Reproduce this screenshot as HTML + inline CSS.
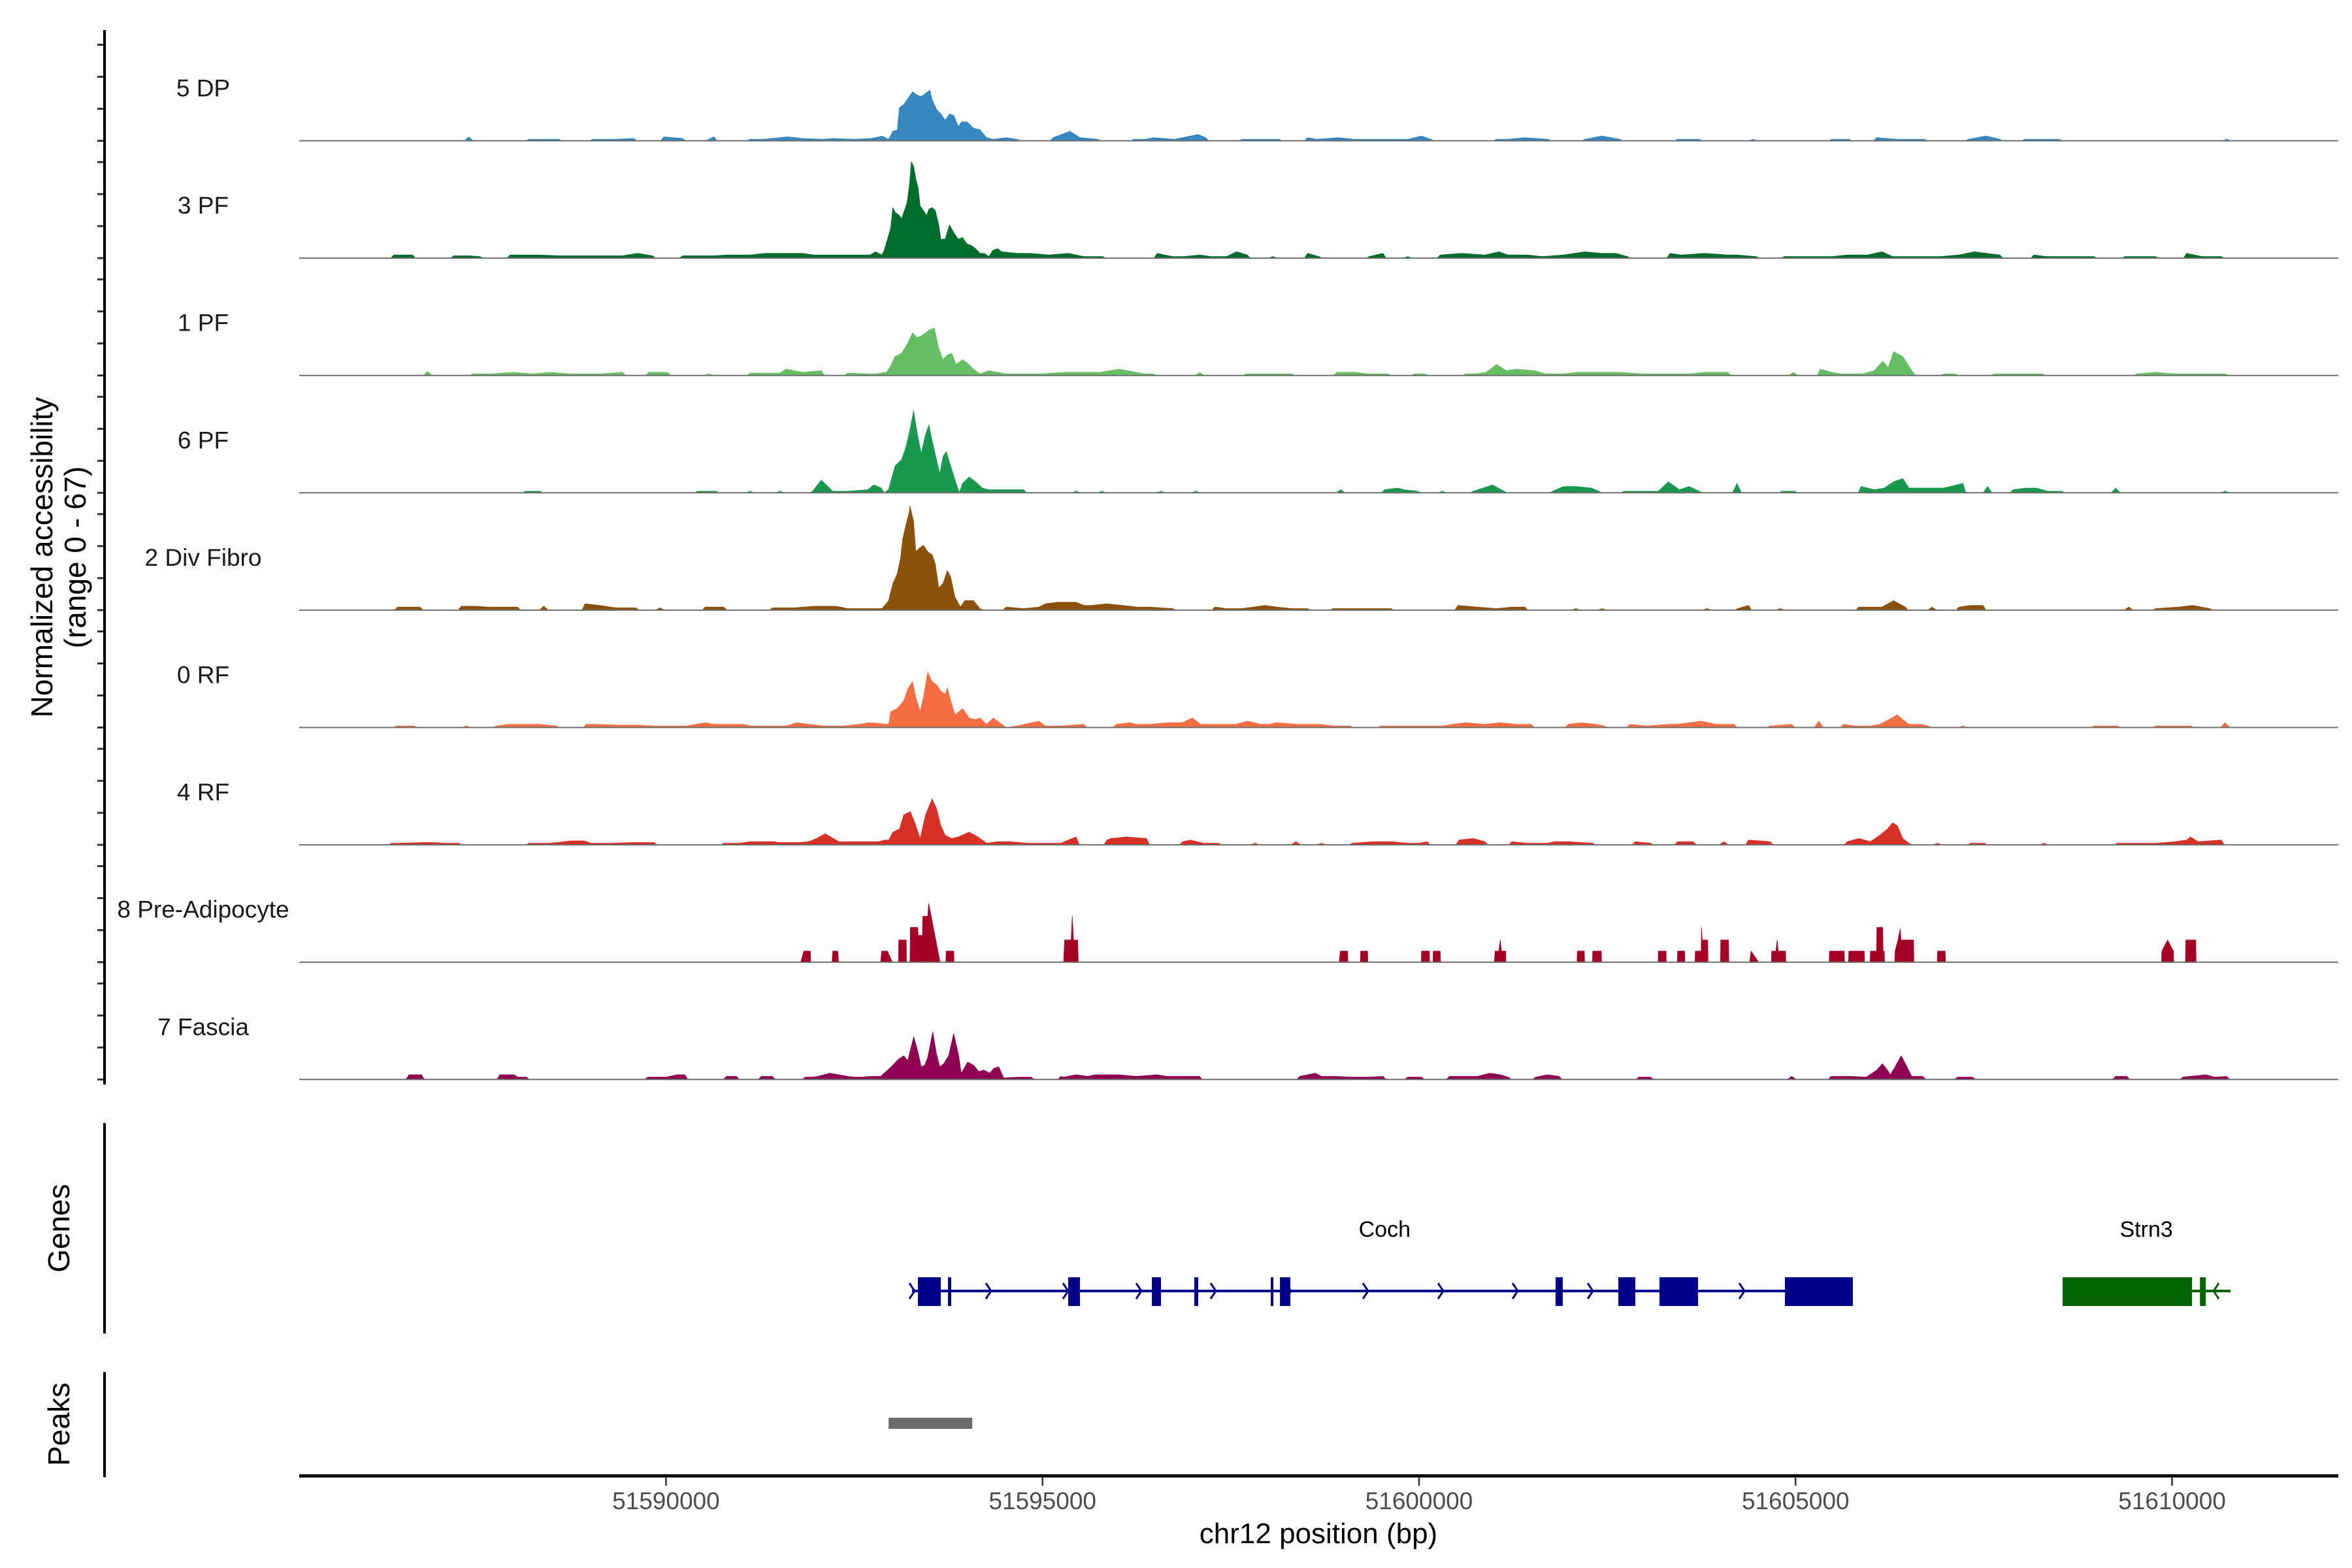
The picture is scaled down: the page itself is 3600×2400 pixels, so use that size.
<!DOCTYPE html>
<html><head><meta charset="utf-8"><style>
html,body{margin:0;padding:0;background:#fff;}
svg{display:block;font-family:"Liberation Sans",Arial,sans-serif;}
</style></head><body>
<svg id="chart" width="3600" height="2400" viewBox="0 0 3600 2400" xmlns="http://www.w3.org/2000/svg">
<rect width="3600" height="2400" fill="#fff"/>
<g id="tracks"></g>
<g id="axes"></g>
<g id="genes"></g>
<text transform="translate(80,853) rotate(-90)" text-anchor="middle" font-size="46" fill="#000">Normalized accessibility</text>
<text transform="translate(131,853) rotate(-90)" text-anchor="middle" font-size="46" fill="#000">(range 0 - 67)</text>
<text transform="translate(106,1880) rotate(-90)" text-anchor="middle" font-size="46" fill="#000">Genes</text>
<text transform="translate(106,2180) rotate(-90)" text-anchor="middle" font-size="46" fill="#000">Peaks</text>
<text x="2018" y="2362" text-anchor="middle" font-size="44" fill="#000">chr12 position (bp)</text>
</svg>
<script>
const trackNames = ["5 DP","3 PF","1 PF","6 PF","2 Div Fibro","0 RF","4 RF","8 Pre-Adipocyte","7 Fascia"];
const trackColors = ["#3787c0","#006d2c","#66bd63","#1a9850","#8c510a","#f46d43","#d73027","#a50026","#8e0152"];
const xTickValues = [51590000,51595000,51600000,51605000,51610000];
const xTickLabels = ["51590000","51595000","51600000","51605000","51610000"];
const REGION_START = 51590000;
// coverage series: [offset bp from 51590000, normalized accessibility]
const dp5 = [[-2619,2.5],[-1822,1],[-1573,1],[-1424,1],[-975,1],[-676,1],[-428,1.5],[-29,2.5],[220,1.5],[569,1],[638,2.5],[1116,1],[1295,1],[1614,2.5],[1813,1.5],[2092,1],[2212,1.5],[2511,1],[2710,1.5],
[2782,2],[2869,3],[2956,1],[3013,6],[3071,7],[3100,21],[3158,23],[3216,27],[3274,31],[3331,29],[3389,28],[3447,30],[3505,32],[3534,26],[3592,20],[3650,17],[3707,13],[3765,17],[3823,16],[3881,9],[3924,12],[3997,12],[4083,8],[4170,7],[4257,2],[4344,1],[4517,2],[4662,1],
[5139,2],[5365,6],[5498,2],[5733,1],[6215,1],[6368,1],[6471,2],[6757,1],[7065,4],[7167,2],[7648,1],[7955,1],[8140,1],[8519,2],[8641,1],[8928,2],[9133,1],[9338,1],[9594,1],[9850,1],[10034,3],[10157,1],[11027,1],[11181,1],[11406,2],[11713,1],[12205,1],[12430,3],[12666,1],[13434,1],[13720,1],[14437,1],[15482,1],[15707,1],[16076,2],[16352,1],[16526,1],[16711,1],[17294,1],[17530,3],[17714,1],[18042,1],[18196,1],[18503,1],[20725,1]];
const pf3 = [[-3615,2],[-3366,2],[-2818,1.5],[-2619,1.5],[-2470,1],[-2071,2],[-1872,2],[-1672,2],[-1424,1.5],[-1150,1.5],[-876,1.5],[-577,1.5],[-378,3],[-179,1.5],[220,1.5],[420,1.5],[618,1.5],[817,2],[1116,2],[1316,3],[1560,3],[1813,3],[1962,2],[2212,2],[2361,2],[2540,2],[2710,2],
[2782,4],[2869,2],[2898,5],[2941,12],[2984,19],[3013,32],[3042,29],[3100,27],[3129,25],[3158,29],[3201,35],[3230,45],[3259,61],[3288,58],[3317,50],[3346,45],[3375,33],[3404,31],[3433,29],[3462,27],[3491,31],[3534,32],[3577,30],[3621,21],[3650,12],[3707,12],[3765,21],[3823,16],[3881,12],[3939,13],[3997,9],[4054,8],[4112,6],[4170,3],[4228,3],[4286,1],[4344,5],[4402,6],[4459,4],[4662,3],[4835,3],[5088,2],
[5345,3],[5549,1],[5800,1],[6522,3],[6727,1],[6880,1],[7085,2],[7238,1],[7443,1],[7577,4],[7720,2],[8058,1],[8519,3],[8672,1],[9338,1],[9522,3],[9850,1],[10280,2],[10567,3],[10874,2],[11058,4],[11181,2],[11437,2],[11641,1],[11918,2],[12205,4],[12420,3],[12615,3],[12768,1],[13332,3],[13485,2],[13792,3],[14100,2],[14222,2],[14478,1],[14847,1],[15025,1],[15328,1],[15482,1],[15687,2],[15953,2],[16148,4],[16291,1],[16455,1],[16762,1],[16922,1],[17171,2],[17376,4],[17530,3],[17714,2],[18165,2],[18329,1],[18554,1],[18759,1],[18964,1],[19373,1],[19527,1],[19783,1],[20193,3],[20397,1],[20653,1]];
const pf1 = [[-3167,2.5],[-2569,1],[-2320,1],[-2041,2],[-1772,1],[-1543,2],[-1274,1],[-1075,1],[-876,1],[-577,2],[-228,2],[22,2],[569,1],[1116,1.5],[1315,1.5],[1514,1.5],[1594,4],[1813,2],[2062,3],[2411,1.5],[2710,1],
[2782,1],[2927,2],[2984,6],[3042,12],[3129,14],[3216,21],[3274,27],[3331,24],[3389,25],[3447,27],[3505,29],[3563,30],[3621,17],[3679,10],[3736,13],[3794,14],[3852,7],[3939,10],[3997,8],[4083,4],[4170,1],[4286,3],[4517,1],[4749,1],[4980,1],
[5293,2],[5498,2],[5600,2],[5764,2],[6010,4],[6250,2],[6348,1],[6471,1],[7085,2],[7699,1],[7853,1],[8160,1],[8314,1],[8908,2],[9154,2],[9317,1],[9594,1],[9932,1],[10075,1],[10618,1],[10751,1],[10894,2],[11027,7],[11160,3],[11283,4],[11539,3],[11673,1],[11918,1],[12102,2],[12307,2],[12461,2],[12666,2],[12973,1],[13229,1],[13485,1],[13587,1],[13792,2],[14100,2],[14970,2],[15329,4],[15482,2],[15605,1],[15891,1],[16045,3],[16158,9],[16230,5],[16301,15],[16424,12],[16557,2],[16967,1],[17120,1],[17632,1],[17837,1],[18042,1],[18278,1],[19527,1],[19783,2],[20039,1],[20244,1],[20397,1],[20704,1]];
const pf6 = [[-1871,1],[-1672,1],[419,1],[668,1],[1116,1],[1514,1],[1962,2],[2062,8],[2150,4],[2212,1],[2411,1],[2680,2],[2760,5],[2859,3],
[2898,0],[2956,2],[3042,17],[3129,21],[3187,29],[3245,41],[3288,52],[3331,39],[3389,25],[3447,37],[3491,43],[3534,33],[3592,21],[3635,12],[3679,23],[3722,26],[3780,17],[3852,6],[3895,0],[3939,6],[4026,10],[4112,7],[4199,3],[4286,2],[4517,2],[4749,2],
[5447,1],[5785,1],[6573,1],[7034,1],[8959,2],[9543,2],[9713,3],[9799,2],[9983,1],[10311,1],[10720,1],[10976,5],[11130,1],[11775,1],[11918,4],[12102,4],[12287,3],[12389,1],[12717,1],[12870,1],[13177,1],[13311,7],[13454,2],[13587,4],[13720,1],[14222,6],[14816,1],[14990,1],[15871,4],[16045,2],[16178,3],[16301,7],[16424,9],[16506,3],[16711,3],[16967,3],[17222,6],[17550,4],[17888,2],[18062,3],[18196,3],[18349,1],[18534,1],[19250,3],[20704,1]];
const divFibro = [[-3565,2],[-3400,2],[-3266,2],[-2718,2.5],[-2520,2.5],[-2370,2],[-2170,2],[-1971,2],[-1622,2.5],[-1075,4],[-876,3],[-676,1.5],[-400,1.5],[-79,1.5],[519,2],[768,2],[1415,1.5],[1714,1.5],[1962,2.5],[2261,2.5],[2411,1],[2710,1],
[2869,1],[2956,6],[3013,17],[3071,23],[3115,33],[3143,45],[3187,54],[3230,62],[3239,66],[3288,56],[3317,37],[3360,39],[3418,41],[3476,37],[3534,35],[3577,29],[3621,14],[3679,17],[3736,25],[3780,21],[3838,8],[3910,2],[3968,6],[4083,6],[4170,1],[4517,2],[4749,1],[4951,2],
[5037,4],[5200,5],[5447,5],[5549,3],[5651,3],[5850,4],[6061,3],[6266,2],[6420,2],[6727,1],[7290,2],[7443,1],[7648,1],[7955,3],[8109,2],[8314,1],[8519,1],[8856,1],[9082,1],[9389,1],[9625,1],[10516,3],[10772,2],[11027,1],[11232,2],[11406,2],[12082,1],[12430,1],[13823,1],[14232,1],[14376,3],[14796,1],[15840,2],[16148,2],[16301,6],[16455,2],[16813,2],[17171,2],[17325,3],[17489,3],[19424,2],[19783,1],[20090,2],[20274,3],[20500,1]];
const rf0 = [[-3579,1],[-3447,1],[-3347,1],[-2650,1],[-2252,1],[-2086,2],[-1880,2],[-1688,2],[-1456,1],[-1057,2],[-925,2],[-626,1.5],[-360,1.5],[-161,1],[0,1],[271,1],[403,2],[530,3],[635,2],[850,2],[1033,2],[1133,1],[1432,1],[1597,1],[1730,3],[1896,2],[2100,1],[2360,1],[2560,2],[2700,3],[2958,2],
[2984,10],[3071,12],[3158,17],[3216,25],[3274,29],[3317,19],[3375,10],[3418,19],[3476,35],[3534,29],[3592,27],[3650,23],[3707,21],[3736,25],[3780,17],[3838,8],[3939,12],[4026,6],[4112,5],[4170,6],[4257,2],[4344,6],[4431,3],[4517,0],[4662,1],[4951,4],
[5037,1],[5242,1],[5549,2],[5979,2],[6165,3],[6245,2],[6420,2],[6676,3],[6850,3],[6990,6],[7100,2],[7300,2],[7560,2],[7720,4],[7900,2],[8009,2],[8109,3],[8390,2],[8672,2],[8877,1],[9082,1],[9492,1],[9645,1],[9799,1],[10075,1],[10311,1],[10444,2],[10618,3],[10874,2],[11078,3],[11304,2],[11488,2],[11979,2],[12154,3],[12348,2],[12461,1],[12799,2],[13024,1],[13311,2],[13434,2],[13741,4],[13946,2],[14181,2],[14662,1],[14949,2],[15308,4],[15636,2],[15789,1],[15994,1],[16117,2],[16281,6],[16353,8],[16424,5],[16506,2],[16660,2],[16762,1],[17222,1],[18964,1],[19271,1],[19783,1],[20008,1],[20244,1],[20704,3]];
const rf4 = [[-3646,1],[-3547,1],[-3228,1.5],[-3082,1.5],[-2949,1],[-2750,1],[-1820,1],[-1688,1],[-1542,1],[-1257,2.5],[-1090,2.5],[-991,1],[-726,1],[-427,1.5],[-161,1.5],[768,1],[967,1],[1113,2],[1432,2],[1498,1.5],[1763,1.5],[1896,2],[2000,4],[2115,7],[2294,2],[2460,2],[2650,2],[2825,2],[2900,3],
[2958,3],[3013,8],[3100,10],[3158,19],[3245,21],[3303,14],[3375,4],[3447,19],[3534,29],[3592,23],[3650,12],[3707,6],[3794,4],[3881,5],[4026,8],[4141,5],[4257,1],[4402,2],[4575,2],[4807,1],
[5037,1],[5242,1],[5344,3],[5447,5],[5856,3],[5907,4],[6113,5],[6380,4],[6860,2],[6962,3],[7140,1],[7341,1],[7822,1],[8365,2],[8703,1],[9113,1],[9389,2],[9645,2],[9850,1],[10003,1],[10106,2],[10530,3],[10720,4],[10874,2],[11232,2],[11437,1],[11703,1],[11800,2],[12000,2],[12307,1],[12871,2],[13075,1],[13434,2],[13638,2],[14048,2],[14376,3],[14662,2],[15687,2],[15840,4],[15994,2],[16117,6],[16220,10],[16291,14],[16352,12],[16424,4],[16506,1],[16885,1],[17325,1],[17509,1],[18298,1],[19271,1],[19578,1],[19783,1],[20039,2],[20193,3],[20244,5],[20346,2],[20653,3]];
const preAdipo = [[1790,0],[1830,7],[1916,7],[1920,0],[2205,0],[2215,7],[2280,7],[2294,0],[2850,0],[2865,7],[2940,7],[3005,0],[3087,0],[3091,14],[3190,14],[3194,0],[3240,0],[3245,22],[3343,22],[3350,17],[3405,17],[3410,29],[3476,29],[3489,37],[3640,0],[3715,0],[3721,7],[3821,7],[3825,0],
[5280,0],[5293,14],[5380,14],[5395,29],[5410,14],[5467,14],[5475,0],
[8940,0],[8955,7],[9051,7],[9055,0],[9220,0],[9225,7],[9317,7],[9320,0],[10030,0],[10034,7],[10137,7],[10140,0],[10185,0],[10188,7],[10280,7],[10285,0],[11000,0],[11010,7],[11060,7],[11078,14],[11095,7],[11150,7],[11155,0],[12098,0],[12102,7],[12195,7],[12198,0],[12303,0],[12307,7],[12420,7],[12423,0],[13174,0],[13178,7],[13280,7],[13283,0],[13430,0],[13434,7],[13526,7],[13530,0],[13665,0],[13669,7],[13746,7],[13751,22],[13760,14],[13833,14],[13837,0],[14003,0],[14007,14],[14110,14],[14114,0],[14390,0],[14410,7],[14509,0],[14680,0],[14683,7],[14740,7],[14755,14],[14770,7],[14867,7],[14871,0],[15447,0],[15451,7],[15646,7],[15650,0],[15703,0],[15707,7],[15912,7],[15916,0],[15990,0],[15994,7],[16076,7],[16080,22],[16158,22],[16162,7],[16178,7],[16182,0],[16318,0],[16322,7],[16360,14],[16391,21],[16400,14],[16567,14],[16571,0],[16881,0],[16885,7],[16987,7],[16991,0],[19860,0],[19865,7],[19940,14],[20018,7],[20022,0],[20178,0],[20182,14],[20315,14],[20319,0]];
const fascia7 = [[-3413,3],[-3248,3],[-2206,3],[-2020,3],[-1967,1.5],[-1854,1.5],[-241,1.5],[-148,1.5],[-75,1.5],[5,1.5],[150,3],[250,3],[801,2],[934,2],[1266,2],[1411,2],[1850,1.5],[1950,1.5],[2016,2],[2175,4],[2414,2],[2507,1.5],[2613,1.5],[2706,2],[2850,2],
[2991,8],[3091,13],[3157,15],[3210,12],[3290,27],[3343,18],[3389,8],[3436,9],[3476,14],[3542,30],[3588,17],[3635,8],[3688,10],[3754,15],[3820,29],[3887,15],[3920,4],[4007,11],[4086,9],[4153,5],[4219,6],[4299,4],[4352,7],[4418,8],[4485,1],[4684,1.5],[4850,1.5],[5281,1.5],
[5242,2],[5447,3],[5600,2],[5702,3],[5856,3],[6010,3],[6245,2],[6522,3],[6645,2],[6880,2],[7085,2],[8416,2],[8621,4],[8703,2],[8877,2],[9113,1.5],[9343,1.5],[9522,2],[9850,1.5],[10034,1.5],[10403,2],[10567,2],[10772,2],[10940,4],[11078,3],[11185,1.5],[11549,1.5],[11706,3],[11860,2],[12917,1.5],[13075,1.5],[14949,2],[15471,2],[15723,2],[15940,1.5],[16080,6],[16153,10],[16220,6],[16260,3],[16322,8],[16403,15],[16458,10],[16543,2],[16690,2],[17150,1.5],[17350,1.5],[19250,2],[19400,2],[20142,1.5],[20450,3],[20560,1.5],[20725,2]];
const trackSeries = [dp5, pf3, pf1, pf6, divFibro, rf0, rf4, preAdipo, fascia7];
// gene models (offsets from 51590000)
const cochExons = [[3345,3649],[3744,3788],[5341,5497],[6452,6573],[7016,7068],[8031,8066],[8153,8291],[11813,11909],[12646,12872],[13193,13705],[14859,15761]];
const cochSpan = [3267,15761];
const cochChevrons = [3267,4282,5306,6278,7267,8265,9289,10287,11276,12274,14287];
const strn3Exons = [[18547,20265],[20370,20448]];
const strn3Span = [18547,20777];
const strn3Chevrons = [20586];
const peakRegions = [[2956,4067]];

const NS = "http://www.w3.org/2000/svg";
function xs(off){ return 1019.4 + off*0.11526; }
function xbp(bp){ return xs(bp - REGION_START); }
const PLOT_L = 458, PLOT_R = 3579;
const BASE0 = 215.5, STEP = 179.6, UNIT = 2.42;
function mk(tag, attrs, parent){ const e=document.createElementNS(NS,tag); for(const k in attrs) e.setAttribute(k, attrs[k]); parent.appendChild(e); return e; }

const tracksG = document.getElementById('tracks');
const axesG = document.getElementById('axes');
trackSeries.forEach((series, i) => {
  const base = BASE0 + STEP*i;
  const g = mk('g', {}, tracksG);
  
  
  const pts = series.slice().sort((a,b)=>a[0]-b[0]);
  let d = "";
  let grp = [];
  const flush = () => {
    if (!grp.length) return;
    const pad = grp.length === 1 ? 60 : 40;
    const first = grp[0], last = grp[grp.length-1];
    d += "M" + xs(first[0] - (first[1] > 0 ? pad : 0)).toFixed(1) + "," + base.toFixed(1);
    grp.forEach(p => { d += "L" + xs(p[0]).toFixed(1) + "," + (base - p[1]*UNIT).toFixed(1); });
    d += "L" + xs(last[0] + (last[1] > 0 ? pad : 0)).toFixed(1) + "," + base.toFixed(1) + "Z";
    grp = [];
  };
  pts.forEach(p => {
    if (grp.length && p[0] - grp[grp.length-1][0] > 320) flush();
    grp.push(p);
  });
  flush();
  const area = mk('path', {d: d, fill: trackColors[i], stroke: trackColors[i], 'stroke-width': 0.8, 'stroke-linejoin': 'round'}, g);
  
  
  const bl = mk('line', {x1: PLOT_L, x2: PLOT_R, y1: base, y2: base, stroke: '#6e6e6e', 'stroke-width': 2}, g);
  
  
  const lab = mk('text', {x: 311, y: base - 68, 'text-anchor': 'middle', 'font-size': 37, fill: '#1a1a1a'}, g);
  lab.textContent = trackNames[i];
  
  
  [0,49,98,147].forEach(o => {
    const t = mk('line', {x1: 149, x2: 160, y1: base - o, y2: base - o, stroke: '#333', 'stroke-width': 3}, axesG);
    
    
  });
});
// vertical axis lines
[[46,1660],[1719,2041],[2100,2261]].forEach(r => {
  const l = mk('line', {x1: 160, x2: 160, y1: r[0], y2: r[1], stroke: '#000', 'stroke-width': 4}, axesG);
  
  
});
// x axis
const xl = mk('line', {x1: PLOT_L, x2: PLOT_R, y1: 2259, y2: 2259, stroke: '#000', 'stroke-width': 5}, axesG);


xTickValues.forEach((v, k) => {
  const x = xbp(v);
  const t = mk('line', {x1: x, x2: x, y1: 2261, y2: 2274, stroke: '#333', 'stroke-width': 2.5}, axesG);
  
  
  const tl = mk('text', {x: x, y: 2310, 'text-anchor': 'middle', 'font-size': 37, fill: '#4d4d4d'}, axesG);
  tl.textContent = xTickLabels[k];
  
  
});
// genes
const genesG = document.getElementById('genes');
function drawGene(name, span, exons, chevrons, color, dir, labelOff){
  const g = mk('g', {}, genesG);
  
  
  const y = 1976;
  const ln = mk('line', {x1: xs(span[0]), x2: xs(span[1]), y1: y, y2: y, stroke: color, 'stroke-width': 4}, g);
  
  
  exons.forEach(e => {
    const r = mk('rect', {x: xs(e[0]), y: 1955, width: Math.max(2, xs(e[1]) - xs(e[0])), height: 44, fill: color}, g);
    
    
  });
  chevrons.forEach(c => {
    const x = xs(c);
    const p = dir > 0 ? `M${x-4},${y-12}L${x+4},${y}L${x-4},${y+12}` : `M${x+4},${y-12}L${x-4},${y}L${x+4},${y+12}`;
    const ch = mk('path', {d: p, fill: 'none', stroke: color, 'stroke-width': 3}, g);
    
    
  });
  const t = mk('text', {x: xs(labelOff), y: 1893, 'text-anchor': 'middle', 'font-size': 34, fill: '#000'}, g);
  t.textContent = name;
  
  
}
drawGene('Coch', cochSpan, cochExons, cochChevrons, '#00008b', 1, 9543);
drawGene('Strn3', strn3Span, strn3Exons, strn3Chevrons, '#006400', -1, 19658);
peakRegions.forEach(p => {
  const r = mk('rect', {x: xs(p[0]), y: 2170, width: xs(p[1]) - xs(p[0]), height: 17, fill: '#6b6b6b'}, genesG);
  
  
});
</script>
</body></html>
